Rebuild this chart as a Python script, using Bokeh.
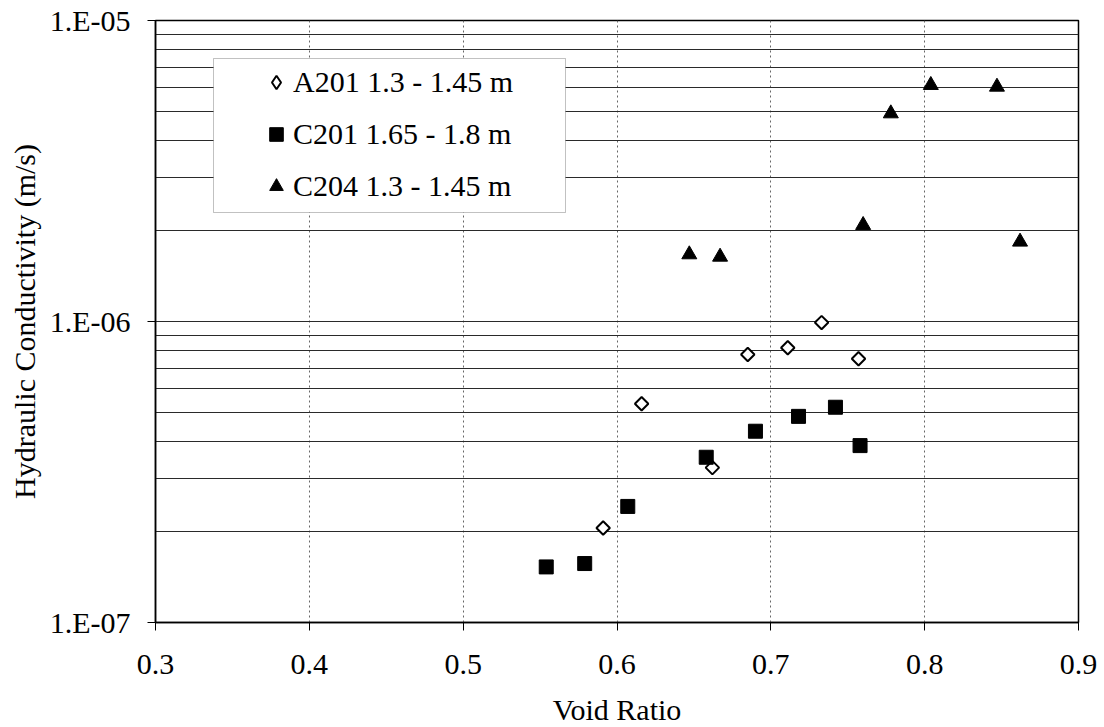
import math
from bokeh.plotting import figure
from bokeh.models import (FixedTicker, CustomJSTickFormatter, Legend, LegendItem,
                          BoxAnnotation)
from bokeh.embed import file_html
from bokeh.resources import INLINE

# ---- data ----
a201_void = [0.591, 0.616, 0.662, 0.685, 0.711, 0.733, 0.757]
a201_k = [2.06e-7, 5.33e-7, 3.27e-7, 7.77e-7, 8.18e-7, 9.92e-7, 7.52e-7]

c201_void = [0.554, 0.579, 0.607, 0.658, 0.690, 0.718, 0.742, 0.758]
c201_k = [1.53e-7, 1.57e-7, 2.43e-7, 3.54e-7, 4.32e-7, 4.84e-7, 5.19e-7, 3.87e-7]

c204_void = [0.647, 0.667, 0.760, 0.778, 0.804, 0.847, 0.862]
c204_k = [1.67e-6, 1.64e-6, 2.09e-6, 4.91e-6, 6.10e-6, 6.02e-6, 1.84e-6]

series_labels = ["A201 1.3 - 1.45 m", "C201 1.65 - 1.8 m", "C204 1.3 - 1.45 m"]
x_ticks = [0.3, 0.4, 0.5, 0.6, 0.7, 0.8, 0.9]
y_major = [1e-7, 1e-6, 1e-5]
x_label = "Void Ratio"
y_label = "Hydraulic Conductivity (m/s)"

FONT = "Liberation Serif"
FS = "30px"

p = figure(frame_width=923, frame_height=602,
           x_range=(0.3, 0.9), y_range=(1e-7, 1e-5), y_axis_type="log",
           output_backend="svg", toolbar_location=None,
           min_border_left=155, min_border_top=20, min_border_right=26,
           min_border_bottom=105)
p.background_fill_color = "white"
p.border_fill_color = "white"
p.outline_line_color = "black"
p.outline_line_width = 1.5

# axes
p.xaxis.ticker = FixedTicker(ticks=x_ticks)
p.yaxis.ticker = FixedTicker(ticks=y_major)
p.yaxis.formatter = CustomJSTickFormatter(code="""
    const e = Math.round(Math.log10(tick));
    const s = String(Math.abs(e)).padStart(2, '0');
    return '1.E' + (e < 0 ? '-' : '+') + s;
""")
for ax in (p.xaxis, p.yaxis):
    ax.axis_line_color = "black"
    ax.axis_line_width = 1.5
    ax.major_tick_line_color = "black"
    ax.major_tick_in = 0
    ax.major_tick_out = 8
    ax.minor_tick_line_color = None
    ax.major_label_text_font = FONT
    ax.major_label_text_font_size = FS
    ax.major_label_text_color = "black"
    ax.axis_label_text_font = FONT
    ax.axis_label_text_font_size = FS
    ax.axis_label_text_font_style = "normal"
    ax.axis_label_text_color = "black"
p.xaxis.axis_label = x_label
p.yaxis.axis_label = y_label
p.xaxis.major_label_standoff = 24
p.xaxis.axis_label_standoff = 16
p.yaxis.major_label_standoff = 17
p.yaxis.axis_label_standoff = 6

# grids
y_grid_ticks = [m * 10.0 ** e for e in (-7, -6) for m in range(1, 10)] + [1e-5]
p.ygrid.ticker = FixedTicker(ticks=y_grid_ticks)
p.ygrid.grid_line_color = "#2a2a2a"
p.ygrid.grid_line_width = 1
p.xgrid.ticker = FixedTicker(ticks=x_ticks)
p.xgrid.grid_line_color = "#666666"
p.xgrid.grid_line_dash = "2 3"
p.xgrid.grid_line_width = 1

# series
r1 = p.scatter(a201_void, a201_k, marker="square", size=9.5, angle=math.pi / 4,
               fill_color="white", line_color="black", line_width=2)
r1_leg = p.scatter(a201_void, a201_k, marker="diamond", size=14,
                   fill_color="white", line_color="black", line_width=2,
                   visible=False)
r2 = p.scatter(c201_void, c201_k, marker="square", size=14,
               fill_color="black", line_color="black")
r3 = p.scatter(c204_void, c204_k, marker="triangle", size=15,
               fill_color="black", line_color="black")

# legend frame (canvas pixels)
legend_box = BoxAnnotation(left=213, right=565, top=58, bottom=212,
                           left_units="canvas", right_units="canvas",
                           top_units="canvas", bottom_units="canvas",
                           fill_color="white", fill_alpha=1.0,
                           line_color="#333333", line_width=1)
p.add_layout(legend_box)

legend = Legend(items=[LegendItem(label=series_labels[0], renderers=[r1_leg]),
                       LegendItem(label=series_labels[1], renderers=[r2]),
                       LegendItem(label=series_labels[2], renderers=[r3])],
                location=(104, 419))
legend.label_text_font = FONT
legend.label_text_font_size = FS
legend.label_text_color = "black"
legend.padding = 0
legend.spacing = 18
legend.glyph_height = 34
legend.label_height = 34
legend.glyph_width = 34
legend.label_standoff = 0
legend.margin = 0
legend.border_line_color = None
legend.background_fill_alpha = 0.0
p.add_layout(legend)

open("out.html", "w").write(file_html(p, INLINE))
